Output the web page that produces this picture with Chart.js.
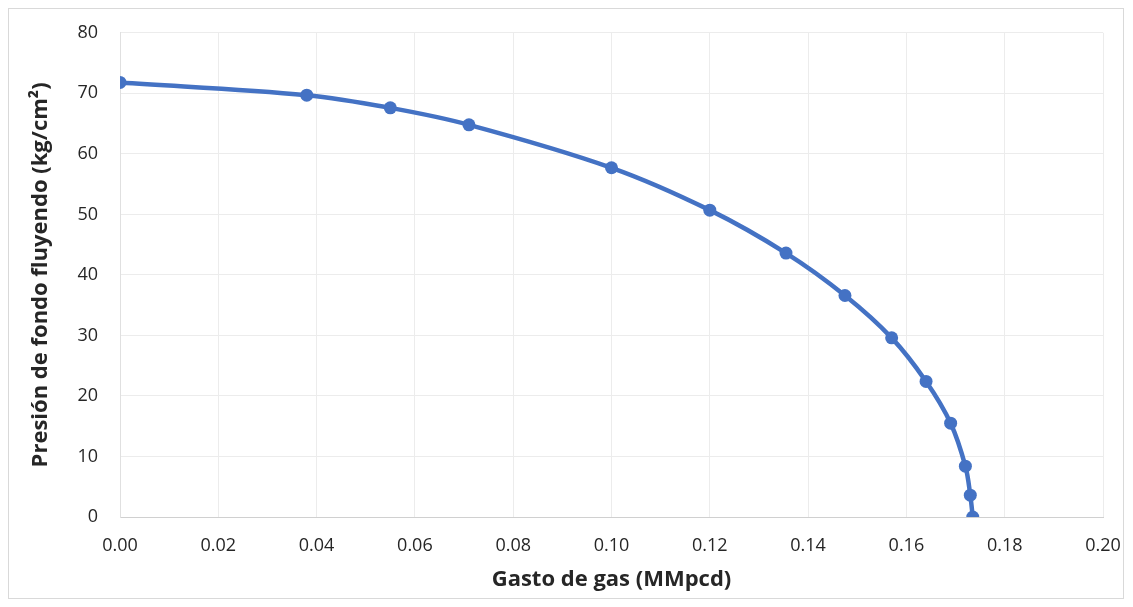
<!DOCTYPE html>
<html>
<head>
<meta charset="utf-8">
<script src="https://cdn.jsdelivr.net/npm/chart.js@4"></script>
<style>
  html, body { margin: 0; padding: 0; background: #fff; }
  #frame {
    position: absolute; left: 8px; top: 8px;
    width: 1116px; height: 591px;
    border: 1px solid #d9d9d9; box-sizing: border-box;
  }
  #chart { position: absolute; left: 0; top: 0; }
</style>
</head>
<body>
<div id="frame"></div>
<canvas id="chart" width="1133" height="607"></canvas>
<script>
// Gas rate (MMpcd) and flowing bottom-hole pressure (kg/cm2)
const gasRate = [0.000, 0.038, 0.055, 0.071, 0.100, 0.120, 0.1355, 0.1475, 0.157, 0.164, 0.169, 0.172, 0.173, 0.1735];
const pressure = [71.8, 69.7, 67.6, 64.8, 57.7, 50.7, 43.6, 36.6, 29.6, 22.4, 15.5, 8.4, 3.6, 0.0];

const xTitle = 'Gasto de gas (MMpcd)';
const yTitle = 'Presión de fondo fluyendo (kg/cm²)';

const points = gasRate.map((q, i) => ({ x: q, y: pressure[i] }));

const tickFont = { family: 'Open Sans', size: 18 };
const titleFont = { family: 'Open Sans', size: 22, weight: 'bold' };
const blue = '#4472C4';

new Chart(document.getElementById('chart').getContext('2d'), {
  type: 'scatter',
  data: {
    datasets: [{
      data: points,
      showLine: true,
      borderColor: blue,
      backgroundColor: blue,
      borderWidth: 4.5,
      pointRadius: 6.5,
      pointBorderWidth: 0,
      tension: 0.35
    }]
  },
  options: {
    responsive: false,
    animation: false,
    layout: { padding: { left: 24, right: 30, top: 30, bottom: 10 } },
    plugins: { legend: { display: false }, tooltip: { enabled: false } },
    scales: {
      x: {
        type: 'linear', min: 0, max: 0.2,
        afterFit: s => { s.height = 80; s.paddingLeft = 0; s.paddingRight = 0; },
        ticks: {
          stepSize: 0.02, color: '#262626', font: tickFont, padding: 18,
          callback: v => v.toFixed(2)
        },
        grid: { color: '#ececec', drawTicks: false },
        border: { color: '#d0d0d0' },
        title: { display: true, text: xTitle, color: '#262626', font: titleFont, padding: { top: 2 } }
      },
      y: {
        min: 0, max: 80,
        afterFit: s => { s.width = 96; },
        ticks: { stepSize: 10, color: '#262626', font: tickFont, padding: 22 },
        grid: { color: '#ececec', drawTicks: false },
        border: { color: '#e0e0e0' },
        title: { display: true, text: yTitle, color: '#262626', font: titleFont, padding: { bottom: 10 } }
      }
    }
  }
});
</script>
</body>
</html>
